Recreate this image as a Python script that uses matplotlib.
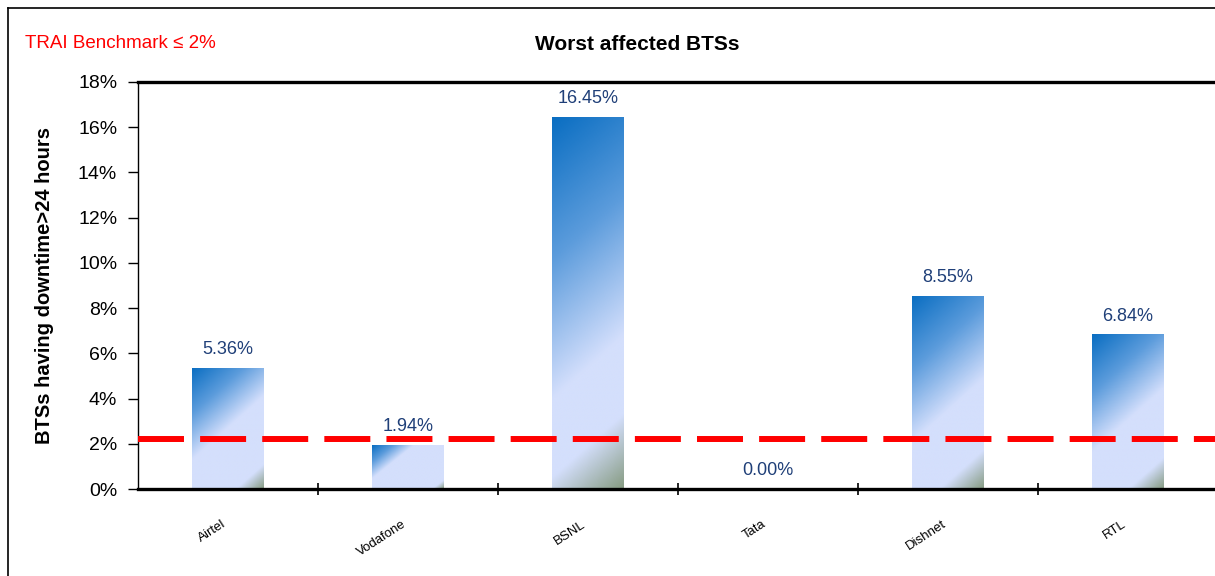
import numpy as np
import matplotlib
matplotlib.use("Agg")
import matplotlib.pyplot as plt
from matplotlib.colors import LinearSegmentedColormap
from matplotlib.lines import Line2D
from matplotlib.ticker import FixedLocator, PercentFormatter

plt.rcParams['font.family'] = ['Liberation Sans', 'DejaVu Sans']

# data
operators = ["Airtel", "Vodafone", "BSNL", "Tata", "Dishnet", "RTL"]
downtime_pct = [5.36, 1.94, 16.45, 0.00, 8.55, 6.84]
value_labels = ["5.36%", "1.94%", "16.45%", "0.00%", "8.55%", "6.84%"]
benchmark_line = 2.2
yticks = [0, 2, 4, 6, 8, 10, 12, 14, 16, 18]

W, H = 1215, 576
fig = plt.figure(figsize=(W / 100, H / 100), dpi=100)
ax = fig.add_axes([138 / W, 1 - 489 / H, (1218 - 138) / W, (489 - 82) / H])

# gradient fill: blue top-left -> pale lavender -> grey-green bottom-right corner
cmap = LinearSegmentedColormap.from_list("bar", [
    (0.0, "#0a6ec2"),
    (0.22, "#5c9cdc"),
    (0.5, "#d4dffc"),
    (0.75, "#d4dffc"),
    (1.0, "#869b82"),
])
u = np.linspace(0, 1, 80)
w = np.linspace(0, 1, 240)
uu, ww = np.meshgrid(u, w)

x = np.arange(len(operators))
bars = ax.bar(x, downtime_pct, width=0.4, color="none", edgecolor="none", zorder=2)
for b in bars:
    h = b.get_height()
    if h <= 0:
        continue
    k = min(2.8 / h, 1.3)
    raw = ww + k * uu
    m = 1 + k
    t = np.interp(raw, [0, 0.38, 0.76, m - 0.2, m], [0, 0.22, 0.5, 0.75, 1.0])
    x0 = b.get_x()
    im = ax.imshow(t, cmap=cmap, vmin=0, vmax=1, aspect="auto",
                   extent=(x0, x0 + b.get_width(), 0, h), origin="upper",
                   interpolation="bilinear", zorder=2)
    im.set_clip_path(b)

for xi, v, lab in zip(x, downtime_pct, value_labels):
    ax.annotate(lab, (xi, v), xytext=(0, 7), textcoords="offset points",
                ha="center", va="bottom", fontsize=13, color="#1f3f78", zorder=4)

ax.axhline(benchmark_line, color="#ff0000", lw=4.3, ls=(0, (7.7, 2.7)), zorder=3)

ax.set_xlim(-0.5, 5.5)
ax.set_ylim(0, 18)
ax.set_yticks(yticks)
ax.yaxis.set_major_formatter(PercentFormatter(decimals=0))
ax.tick_params(axis="y", direction="out", length=7, width=1, labelsize=14, pad=8)

ax.xaxis.set_major_locator(FixedLocator(x[:-1] + 0.5))
ax.xaxis.set_minor_locator(FixedLocator(x))
ax.set_xticklabels([], minor=False)
ax.set_xticklabels(operators, minor=True, rotation=33, ha="right", fontsize=9.5)
ax.tick_params(axis="x", which="major", direction="inout", length=9, width=1.2)
ax.tick_params(axis="x", which="minor", length=0, pad=21)

for side in ["top", "bottom"]:
    ax.spines[side].set_linewidth(2.4)
ax.spines["left"].set_linewidth(1.0)
ax.spines["right"].set_visible(False)

ax.set_ylabel("BTSs having downtime>24 hours", fontsize=14.5, fontweight="bold", labelpad=17)

fig.text(637 / W, 1 - 45 / H, "Worst affected BTSs", ha="center", va="center",
         fontsize=15, fontweight="bold")
fig.text(25 / W, 1 - 44 / H, "TRAI Benchmark \u2264 2%", ha="left", va="center",
         fontsize=13.5, color="#ff0000")

# outer frame
fig.add_artist(Line2D([7.5 / W, 7.5 / W], [0, 1 - 7.5 / H], color="black", lw=1.2))
fig.add_artist(Line2D([7.5 / W, 1], [1 - 7.5 / H, 1 - 7.5 / H], color="black", lw=1.2))

fig.savefig("out.png", dpi=100)
